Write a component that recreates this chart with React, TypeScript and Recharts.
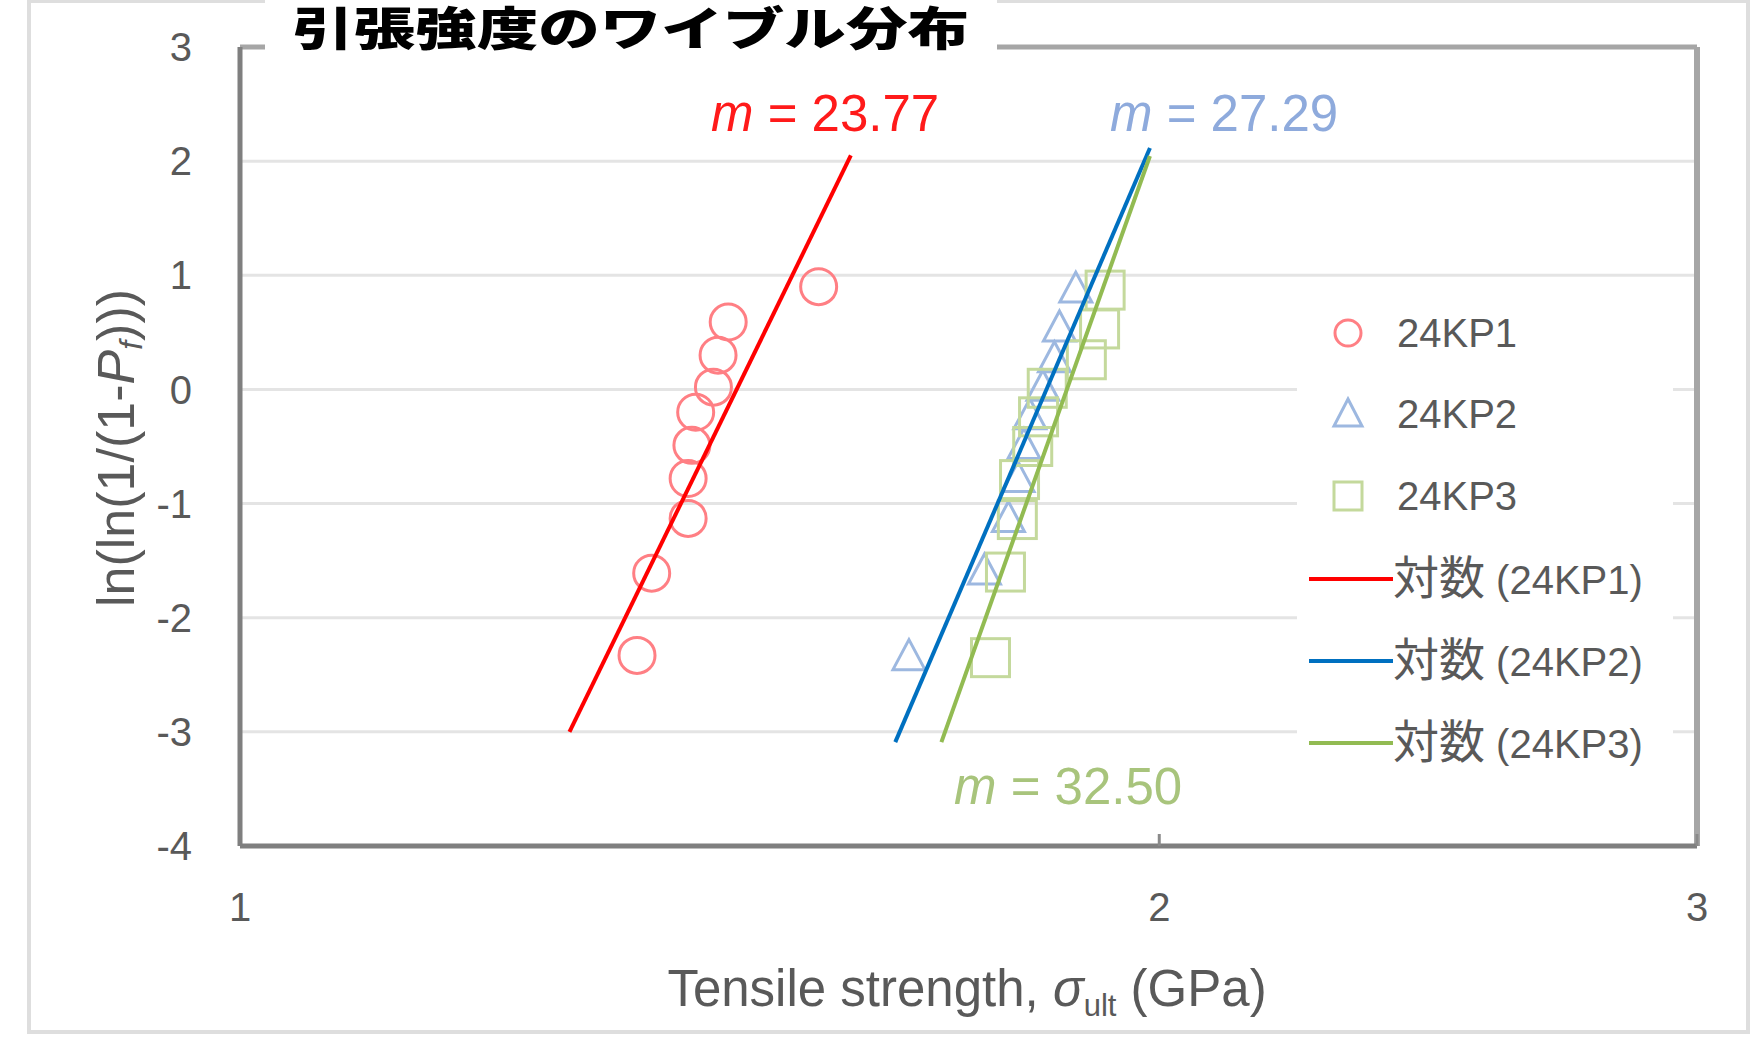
import React from 'react';
import { ScatterChart, Scatter, XAxis, YAxis, CartesianGrid, ReferenceLine, Legend } from 'recharts';

// ---- data ----
const xTicks = [1, 2, 3];
const yTicks = [-4, -3, -2, -1, 0, 1, 2, 3];

const kp1Strength = [1.349, 1.364, 1.402, 1.402, 1.406, 1.41, 1.429, 1.434, 1.445, 1.547];
const kp1Weibull = [-2.33, -1.61, -1.13, -0.78, -0.49, -0.2, 0.02, 0.3, 0.59, 0.9];

const kp2Strength = [1.656, 1.753, 1.785, 1.798, 1.806, 1.814, 1.832, 1.848, 1.855, 1.878];
const kp2Weibull = [-2.35, -1.6, -1.14, -0.79, -0.5, -0.24, 0.01, 0.26, 0.53, 0.87];

const kp3Strength = [1.761, 1.781, 1.797, 1.8, 1.818, 1.826, 1.838, 1.893, 1.912, 1.92];
const kp3Weibull = [-2.35, -1.6, -1.14, -0.79, -0.5, -0.24, 0.01, 0.26, 0.53, 0.87];

const fit1Strength = [1.282, 1.585];
const fit1Weibull = [-3.0, 2.05];
const fit2Strength = [1.639, 1.986];
const fit2Weibull = [-3.09, 2.115];
const fit3Strength = [1.697, 1.986];
const fit3Weibull = [-3.09, 2.045];

const seriesNames = ['24KP1', '24KP2', '24KP3'];
const fitPrefix = '対数';
const fitNames = ['(24KP1)', '(24KP2)', '(24KP3)'];
const slopeLabels = ['23.77', '27.29', '32.50'];

const markerColors = ['#ff7f84', '#9db8e0', '#c4d99c'];
const lineColors = ['#ff0000', '#0070c0', '#92bb52'];
const slopeColors = ['#ff1a1a', '#8eaadc', '#a8c47c'];

const toPoints = (xs: number[], ys: number[]) => xs.map((x, i) => ({ x, y: ys[i] }));

const FONT = '"Liberation Sans", Arial, "Noto Sans CJK JP", sans-serif';
const CJK = '"Noto Sans CJK JP", sans-serif';
const TEXT = '#595959';

const CircleShape = (p: any) => (
  <circle cx={p.cx} cy={p.cy} r={18} fill="none" stroke={markerColors[0]} strokeWidth={3} />
);
const TriangleShape = (p: any) => (
  <polygon
    points={`${p.cx},${p.cy - 18} ${p.cx + 16},${p.cy + 12} ${p.cx - 16},${p.cy + 12}`}
    fill="none"
    stroke={markerColors[1]}
    strokeWidth={3}
  />
);
const SquareShape = (p: any) => (
  <rect x={p.cx - 19} y={p.cy - 19} width={38} height={38} fill="none" stroke={markerColors[2]} strokeWidth={3} />
);
const EmptyShape = () => <g />;

const LegendContent = () => {
  const rowY = [43, 124, 206, 289, 371, 453];
  return (
    <svg width={376} height={500} style={{ display: 'block', background: '#ffffff' }}>
      <circle cx={51} cy={rowY[0]} r={13} fill="none" stroke={markerColors[0]} strokeWidth={3} />
      <polygon
        points={`51,${rowY[1] - 15} 65,${rowY[1] + 12} 37,${rowY[1] + 12}`}
        fill="none"
        stroke={markerColors[1]}
        strokeWidth={3}
      />
      <rect x={37} y={rowY[2] - 14} width={28} height={28} fill="none" stroke={markerColors[2]} strokeWidth={3} />
      {seriesNames.map((n, i) => (
        <text key={n} x={100} y={rowY[i] + 14} fontSize={40} fill={TEXT} fontFamily={FONT}>
          {n}
        </text>
      ))}
      {fitNames.map((n, i) => (
        <g key={n}>
          <line x1={12} x2={96} y1={rowY[3 + i]} y2={rowY[3 + i]} stroke={lineColors[i]} strokeWidth={4} />
          <text x={96} y={rowY[3 + i] + 15} fontSize={40} fill={TEXT} fontFamily={FONT}>
            <tspan fontFamily={CJK} fontSize={46}>{fitPrefix}</tspan>
            <tspan>{` ${n}`}</tspan>
          </text>
        </g>
      ))}
    </svg>
  );
};

const Slope = ({ x, y, value, color }: { x: number; y: number; value: string; color: string }) => (
  <text x={x} y={y} fontSize={51} fill={color} fontFamily={FONT}>
    <tspan fontStyle="italic">m</tspan>
    <tspan>{` = ${value}`}</tspan>
  </text>
);

export default function App() {
  return (
    <div style={{ position: 'absolute', left: 0, top: 0, width: 1750, height: 1045, background: '#fff' }}>
      <ScatterChart width={1750} height={1045} margin={{ top: 47, right: 53, bottom: 139, left: 160 }}>
        <CartesianGrid horizontal vertical={false} stroke="#e4e4e4" strokeWidth={3} />
        <XAxis
          dataKey="x"
          type="number"
          scale="log"
          domain={[1, 3]}
          ticks={xTicks}
          interval={0}
          allowDataOverflow
          height={60}
          tickSize={-12}
          tickMargin={59}
          axisLine={{ stroke: '#7f7f7f', strokeWidth: 5 }}
          tickLine={{ stroke: '#8a8a8a', strokeWidth: 3 }}
          tick={{ fill: TEXT, fontSize: 40, fontFamily: FONT }}
        />
        <YAxis
          dataKey="y"
          type="number"
          domain={[-4, 3]}
          ticks={yTicks}
          interval={0}
          allowDataOverflow
          width={80}
          tickSize={0}
          tickMargin={48}
          axisLine={{ stroke: '#7f7f7f', strokeWidth: 5 }}
          tickLine={false}
          tick={{ fill: TEXT, fontSize: 40, fontFamily: FONT }}
        />
        <ReferenceLine y={3} stroke="#a6a6a6" strokeWidth={5} />
        <ReferenceLine x={3} stroke="#a6a6a6" strokeWidth={6} />
        <Scatter name={seriesNames[0]} data={toPoints(kp1Strength, kp1Weibull)} shape={CircleShape} isAnimationActive={false} />
        <Scatter name={seriesNames[1]} data={toPoints(kp2Strength, kp2Weibull)} shape={TriangleShape} isAnimationActive={false} />
        <Scatter name={seriesNames[2]} data={toPoints(kp3Strength, kp3Weibull)} shape={SquareShape} isAnimationActive={false} />
        <Scatter
          name={`${fitPrefix} ${fitNames[0]}`}
          data={toPoints(fit1Strength, fit1Weibull)}
          line={{ stroke: lineColors[0], strokeWidth: 4 }}
          shape={EmptyShape}
          isAnimationActive={false}
        />
        <Scatter
          name={`${fitPrefix} ${fitNames[1]}`}
          data={toPoints(fit2Strength, fit2Weibull)}
          line={{ stroke: lineColors[1], strokeWidth: 4 }}
          shape={EmptyShape}
          isAnimationActive={false}
        />
        <Scatter
          name={`${fitPrefix} ${fitNames[2]}`}
          data={toPoints(fit3Strength, fit3Weibull)}
          line={{ stroke: lineColors[2], strokeWidth: 4 }}
          shape={EmptyShape}
          isAnimationActive={false}
        />
        <Legend
          layout="horizontal"
          verticalAlign="middle"
          align="center"
          content={LegendContent}
          wrapperStyle={{ position: 'absolute', left: 1297, top: 290, width: 376, height: 500 }}
        />
      </ScatterChart>
      <svg
        width={1750}
        height={1045}
        style={{ position: 'absolute', left: 0, top: 0, pointerEvents: 'none' }}
      >
        <rect x={29} y={1} width={1719} height={1031} fill="none" stroke="#dedede" strokeWidth={4} />
        <rect x={265} y={-2} width={732} height={54} fill="#ffffff" />
        <text
          x={292}
          y={45}
          fontSize={46}
          fontWeight={900}
          textLength={677}
          lengthAdjust="spacingAndGlyphs"
          fill="#000000"
          fontFamily={CJK}
        >
          引張強度のワイブル分布
        </text>
        <Slope x={711} y={131} value={slopeLabels[0]} color={slopeColors[0]} />
        <Slope x={1110} y={131} value={slopeLabels[1]} color={slopeColors[1]} />
        <Slope x={954} y={804} value={slopeLabels[2]} color={slopeColors[2]} />
        <text transform="translate(134,448) rotate(-90)" textAnchor="middle" fontSize={52} fill={TEXT} fontFamily={FONT}>
          <tspan>ln(ln(1/(1-</tspan>
          <tspan fontStyle="italic">P</tspan>
          <tspan fontStyle="italic" fontSize={32} dy={8}>f</tspan>
          <tspan dy={-8}>)))</tspan>
        </text>
        <text x={967} y={1006} textAnchor="middle" fontSize={51} fill={TEXT} fontFamily={FONT}>
          <tspan>Tensile strength, </tspan>
          <tspan fontStyle="italic">σ</tspan>
          <tspan fontSize={31} dy={10}>ult</tspan>
          <tspan dy={-10}> (GPa)</tspan>
        </text>
      </svg>
    </div>
  );
}
